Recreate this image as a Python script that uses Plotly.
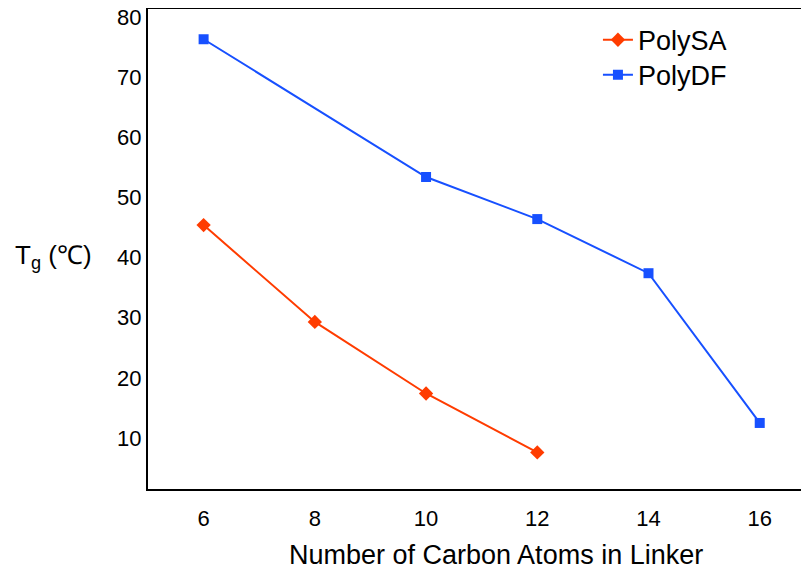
import plotly.graph_objects as go

carbons_sa = [6, 8, 10, 12]
tg_polysa = [45.4, 29.3, 17.4, 7.6]

carbons_df = [6, 10, 12, 14, 16]
tg_polydf = [76.3, 53.4, 46.4, 37.4, 12.5]

x_ticks = [6, 8, 10, 12, 14, 16]
y_ticks = [10, 20, 30, 40, 50, 60, 70, 80]

RED = "#ff3c00"
BLUE = "#1750ff"
FONT = "Liberation Sans"

fig = go.Figure()
fig.add_trace(go.Scatter(
    x=carbons_sa, y=tg_polysa, name="PolySA", mode="lines+markers",
    line=dict(color=RED, width=2),
    marker=dict(symbol="diamond", size=11, color=RED),
    legend="legend",
))
fig.add_trace(go.Scatter(
    x=carbons_df, y=tg_polydf, name="PolyDF", mode="lines+markers",
    line=dict(color=BLUE, width=2),
    marker=dict(symbol="square", size=10, color=BLUE),
    legend="legend2",
))

leg_common = dict(
    xanchor="left", yanchor="top",
    bgcolor="rgba(0,0,0,0)", borderwidth=0,
    font=dict(size=27, family=FONT),
    itemsizing="trace",
)

fig.update_layout(
    width=801, height=567,
    margin=dict(l=140, r=0, t=1, b=86, autoexpand=False),
    plot_bgcolor="white", paper_bgcolor="white",
    font=dict(family=FONT, color="black", size=22),
    showlegend=True,
    legend=dict(x=0.6807, y=0.986, **leg_common),
    legend2=dict(x=0.6807, y=0.913, **leg_common),
    xaxis=dict(
        range=[5.0, 16.886], tickvals=x_ticks, automargin=False,
        showgrid=False, zeroline=False,
        showline=True, linecolor="black", linewidth=2, mirror=True,
        ticks="outside", ticklen=9, tickcolor="rgba(0,0,0,0)",
        tickfont=dict(size=22, family=FONT),
    ),
    yaxis=dict(
        range=[1.52, 81.33], tickvals=y_ticks, automargin=False,
        showgrid=False, zeroline=False,
        showline=True, linecolor="black", linewidth=2,
        ticks="", ticklabeloverflow="allow",
        tickfont=dict(size=22, family=FONT),
    ),
    annotations=[
        dict(text="Number of Carbon Atoms in Linker", xref="paper", yref="paper",
             x=(495.5 - 148) / 661, y=-(555 - 489) / 480, xanchor="center", yanchor="middle",
             showarrow=False, font=dict(size=27, family=FONT)),
        dict(text="T<sub>g</sub> (\u2103)", xref="paper", yref="paper",
             x=(13 - 148) / 661, y=(489 - 257) / 480, xanchor="left", yanchor="middle",
             showarrow=False, font=dict(size=26, family=FONT)),
    ],
)

fig.write_html("out.html")
